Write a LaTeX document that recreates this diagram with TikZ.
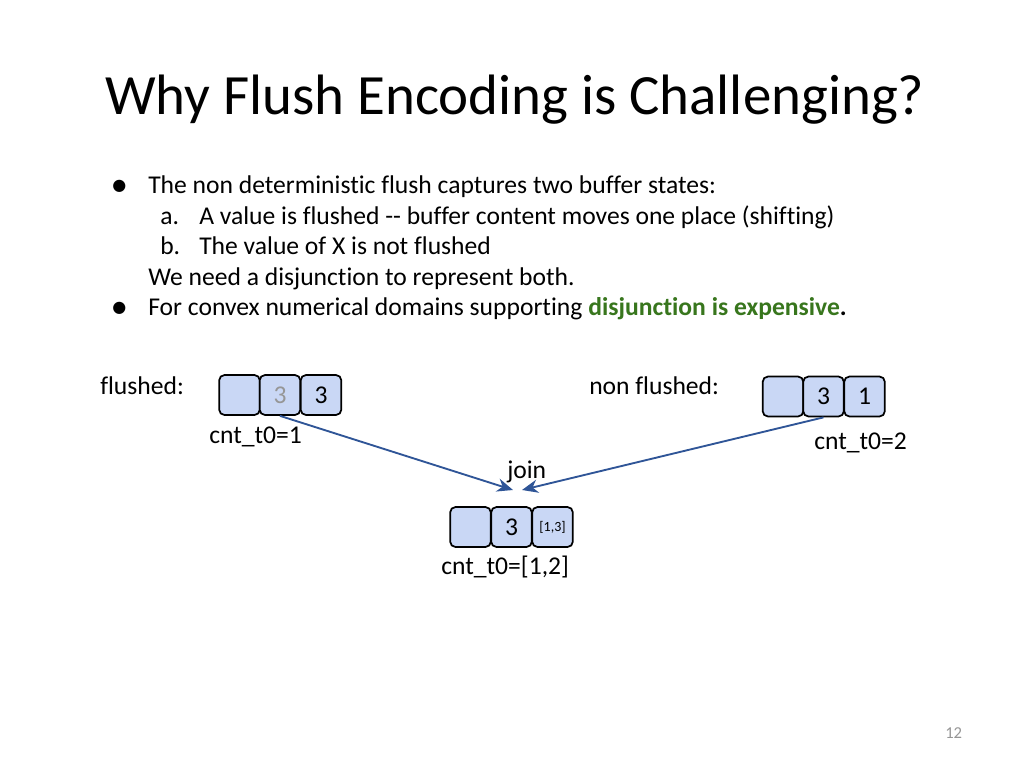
\documentclass[tikz,border=0pt]{standalone}
\usepackage{fontspec}
\setmainfont{Carlito}[Ligatures={NoCommon}]
\newfontfamily\symfont{DejaVu Sans}
\usetikzlibrary{arrows.meta}
\definecolor{boxfill}{RGB}{201,215,245}
\definecolor{arrowblue}{RGB}{47,85,151}
\definecolor{greentext}{RGB}{56,118,29}
\definecolor{greynum}{RGB}{150,150,150}
\tikzset{
  cell/.style={draw=black, line width=1.3pt, fill=boxfill, rounded corners=4pt,
    minimum width=30.5pt, minimum height=30pt, inner sep=0pt, font=\fontsize{19.2}{23}\selectfont},
  body/.style={anchor=base west, inner sep=0pt, font=\fontsize{19.2}{23}\selectfont},
  conn/.style={draw=arrowblue, line width=1.4pt, -{Stealth[length=12pt,width=10pt]}},
}
\begin{document}
\begin{tikzpicture}[x=0.75pt,y=-0.75pt]
\useasboundingbox (0,0) rectangle (1024,768);
% title
\node[anchor=base west, inner sep=0pt, font=\fontsize{42.7}{50}\selectfont] (title) at (105,114) {Why Flush Encoding is Challenging?};
% bullets
\node[body, font=\symfont\fontsize{12}{14}\selectfont] (b1) at (112,190) {●};
\node[body] (t1) at (148,193) {The non deterministic flush captures two buffer states:};
\node[body] (la) at (160,224) {a.};
\node[body] (ta) at (199,224) {A value is flushed -{}- buffer content moves one place (shifting)};
\node[body] (lb) at (160,254) {b.};
\node[body] (tb) at (199,254) {The value of X is not flushed};
\node[body] (t3) at (148,285) {We need a disjunction to represent both.};
\node[body, font=\symfont\fontsize{12}{14}\selectfont] (b2) at (112,312) {●};
\node[body] (t4) at (148,315) {For convex numerical domains supporting \textcolor{greentext}{\textbf{disjunction is expensive}}\textbf{.}};
% flushed
\node[body] (lf) at (100,394) {flushed:};
\node[cell] (f1) at (239.5,395) {};
\node[cell] (f2) at (280,395) {\textcolor{greynum}{3}};
\node[cell] (f3) at (321,395) {3};
\node[body] (cf) at (209,443) {cnt\_t0=1};
% non flushed
\node[body] (lnf) at (589,394) {non flushed:};
\node[cell] (n1) at (783,396.5) {};
\node[cell] (n2) at (823.5,396.5) {3};
\node[cell] (n3) at (864.5,396.5) {1};
\node[body] (cn) at (814,449) {cnt\_t0=2};
% join
\node[body] (lj) at (507,478) {join};
\node[cell] (j1) at (470.5,527) {};
\node[cell] (j2) at (511.5,527) {3};
\node[cell, font=\fontsize{10.5}{12}\selectfont] (j3) at (552.5,527) {[1,3]};
\node[body] (cj) at (441,574) {cnt\_t0=[1,2]};
% connectors
\coordinate (jl) at (513,490);
\coordinate (jr) at (522,490);
\draw[conn] (f2.south) -- (jl);
\draw[conn] (n2.south) -- (jr);
% page number
\node[body, font=\fontsize{12.5}{15}\selectfont, text=greynum] (pg) at (945,738) {12};
\end{tikzpicture}
\end{document}
